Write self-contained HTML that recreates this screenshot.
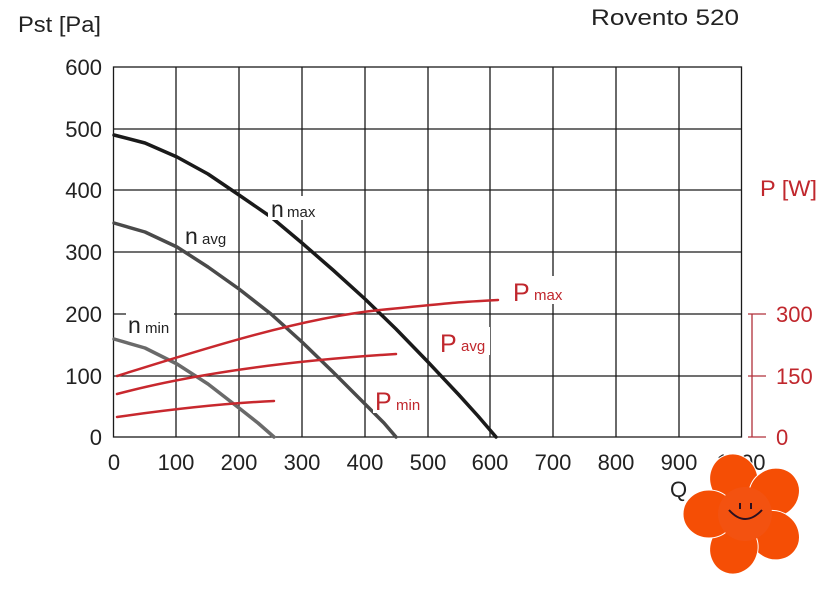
<!DOCTYPE html>
<html><head><style>body{margin:0;background:#fff}svg{display:block;font-family:"Liberation Sans",Arial,sans-serif}</style></head><body>
<svg width="838" height="600" viewBox="0 0 838 600" xmlns="http://www.w3.org/2000/svg">
<g stroke="#1a1a1a" stroke-width="1.3" fill="none">
<rect x="113.5" y="67" width="628" height="370"/>
<path d="M176 67V437M239 67V437M302 67V437M365 67V437M428 67V437M490 67V437M553 67V437M616 67V437M679 67V437M113 129H741M113 190H741M113 252H741M113 314H741M113 376H741"/>
</g>
<g font-size="22" fill="#222" text-anchor="end">
<text x="102" y="75">600</text><text x="102" y="137">500</text><text x="102" y="198">400</text><text x="102" y="260">300</text><text x="102" y="322">200</text><text x="102" y="384">100</text><text x="102" y="445">0</text>
</g>
<g font-size="22" fill="#222" text-anchor="middle">
<text x="114" y="470">0</text><text x="176" y="470">100</text><text x="239" y="470">200</text><text x="302" y="470">300</text><text x="365" y="470">400</text><text x="428" y="470">500</text><text x="490" y="470">600</text><text x="553" y="470">700</text><text x="616" y="470">800</text><text x="679" y="470">900</text><text x="741" y="470">1000</text>
</g>
<text x="670" y="497" font-size="22" fill="#222">Q</text>
<text x="18" y="32" font-size="22" fill="#222" textLength="83" lengthAdjust="spacingAndGlyphs">Pst [Pa]</text>
<text x="591" y="25" font-size="22" fill="#222" textLength="148" lengthAdjust="spacingAndGlyphs">Rovento 520</text>
<text x="760" y="196" font-size="22" fill="#c0272d" textLength="57" lengthAdjust="spacingAndGlyphs">P [W]</text>
<g stroke="#b0303a" stroke-width="1.3" fill="none"><path d="M752 314V437M748 314H766M748 376H766M748 437H766"/></g>
<g font-size="22" fill="#c0272d"><text x="776" y="322">300</text><text x="776" y="384">150</text><text x="776" y="445">0</text></g>
<g fill="none" stroke-linecap="round" stroke-linejoin="round">
<polyline points="114,135 145,143 177,157 208,174 239,195 271,217 302,243 333,270 365,299 396,329 428,362 459,395 478,416 496,437" stroke="#1a1a1a" stroke-width="3.5"/>
<polyline points="114,223 145,232 177,247 208,267 239,289 271,314 302,342 333,372 365,404 384,423 396,437" stroke="#4a4a4a" stroke-width="3.5"/>
<polyline points="114,339 145,348 177,364 208,384 239,408 258,423 274,437" stroke="#6a6a6a" stroke-width="3.5"/>
<path d="M117 376 C200 350 300 318 380 310 S460 302 498 300" stroke="#c8282e" stroke-width="2.5"/>
<path d="M117 394 C200 372 300 360 396 354" stroke="#c8282e" stroke-width="2.5"/>
<path d="M117 417 C180 408 230 403 274 401" stroke="#c8282e" stroke-width="2.5"/>
</g>
<g>
<rect x="268" y="196" width="52" height="24" fill="#fff"/><text x="271" y="217" font-size="23" fill="#222">n</text><text x="287" y="217" font-size="15" fill="#222">max</text>
<rect x="183" y="223" width="48" height="24" fill="#fff"/><text x="185" y="244" font-size="23" fill="#222">n</text><text x="202" y="244" font-size="15" fill="#222">avg</text>
<rect x="126" y="312" width="48" height="24" fill="#fff"/><text x="128" y="333" font-size="23" fill="#222">n</text><text x="145" y="333" font-size="15" fill="#222">min</text>
<rect x="510" y="276" width="60" height="28" fill="#fff"/><text x="513" y="301" font-size="25" fill="#c0272d">P</text><text x="534" y="300" font-size="15" fill="#c0272d">max</text>
<rect x="438" y="327" width="52" height="28" fill="#fff"/><text x="440" y="352" font-size="25" fill="#c0272d">P</text><text x="461" y="351" font-size="15" fill="#c0272d">avg</text>
<rect x="373" y="385" width="52" height="28" fill="#fff"/><text x="375" y="410" font-size="25" fill="#c0272d">P</text><text x="396" y="410" font-size="15" fill="#c0272d">min</text>
</g>
<g transform="translate(745,514)" fill="#f54e05" stroke="#fff" stroke-width="1">
<g transform="rotate(-18)"><ellipse cx="0" cy="-36" rx="24" ry="26"/></g>
<g transform="rotate(54)"><ellipse cx="0" cy="-36" rx="24" ry="26"/></g>
<g transform="rotate(126)"><ellipse cx="0" cy="-36" rx="24" ry="26"/></g>
<g transform="rotate(198)"><ellipse cx="0" cy="-36" rx="24" ry="26"/></g>
<g transform="rotate(270)"><ellipse cx="0" cy="-36" rx="24" ry="26"/></g>
<circle cx="0" cy="0" r="27" fill="#f35210" stroke="none"/>
<path d="M-16 -4 Q0 14 17 -4" stroke="#2a1020" stroke-width="2" fill="none"/>
<path d="M-5 -11V-5M6 -11V-5" stroke="#2a1020" stroke-width="2"/>
</g>
</svg>
</body></html>
